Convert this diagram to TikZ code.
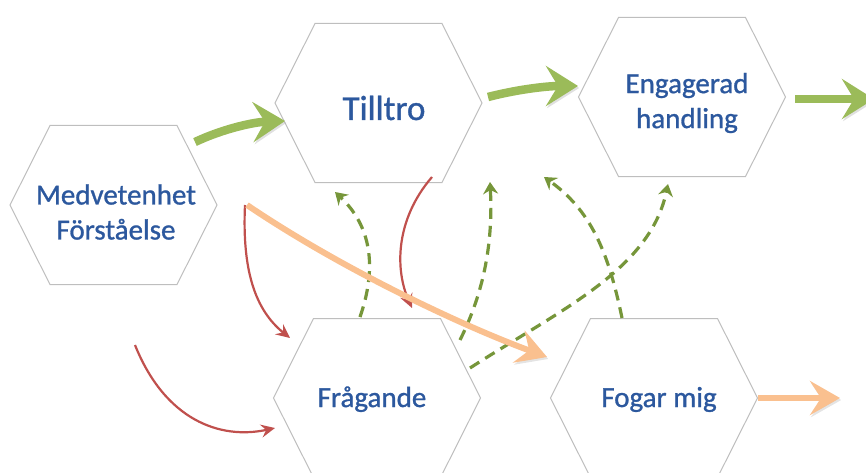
\documentclass[tikz,border=0pt]{standalone}
\usepackage{fontspec}
\setmainfont[FakeBold=1]{Carlito}
\usetikzlibrary{arrows.meta}
\definecolor{txtblue}{RGB}{44,88,158}
\definecolor{hexgray}{RGB}{190,190,190}
\definecolor{thickgreen}{RGB}{155,187,89}
\definecolor{dashgreen}{RGB}{118,150,58}
\definecolor{peach}{RGB}{250,192,143}
\definecolor{redline}{RGB}{192,80,77}
\tikzset{
  hexa/.pic={\draw[hexgray, line width=1pt, fill=white]
    (-103.5,0) -- (-63.5,-79.5) -- (63.5,-79.5) -- (103.5,0) -- (63.5,79.5) -- (-63.5,79.5) -- cycle;},
  label/.style={text=txtblue, font=\fontsize{29}{35}\selectfont, align=center, inner sep=0pt},
  bigarrow/.style={thickgreen, line width=8.5pt, -{Stealth[length=32pt,width=40pt,inset=12pt]},
    preaction={draw=black!35, opacity=.35, transform canvas={shift={(1.2pt,-2pt)}}}},
  peacharrow/.style={peach, line width=6pt, -{Stealth[length=30pt,width=34pt,inset=11pt]},
    preaction={draw=black!35, opacity=.3, transform canvas={shift={(1.2pt,-2pt)}}}},
  redarrow/.style={redline, line width=2.2pt, -{Stealth[length=14pt,width=13pt,inset=5pt]}},
  dasharrow/.style={dashgreen, line width=3.2pt, dash pattern=on 11pt off 7pt, -{Stealth[length=12pt,width=15pt,inset=4pt]}}
}
\begin{document}
\begin{tikzpicture}[x=1pt,y=-1pt]
\useasboundingbox (0,0) rectangle (866,473);
% hexagons
\pic at (113.5,205) {hexa};
\pic at (378.5,103) {hexa};
\pic at (682,97) {hexa};
\pic at (377,398) {hexa};
\pic at (654,398) {hexa};
% labels
\node[label] (med) at (116,212) {Medvetenhet\\Förståelse};
\node[label, anchor=base, font=\fontsize{35}{40}\selectfont] (til) at (384,120) {Tilltro};
\node[label] (eng) at (687,103) {Engagerad\\handling};
\node[label, anchor=base] (fra) at (372,407) {Frågande};
\node[label, anchor=base] (fog) at (659,407) {Fogar mig};
% anchor coordinates
\coordinate (g1s) at (195,142); \coordinate (g1e) at (285,121);
\coordinate (g2s) at (488,97);  \coordinate (g2e) at (578,86);
\coordinate (g3s) at (795,99);  \coordinate (g3e) at (874,99);
\coordinate (o1s) at (247,205); \coordinate (o1e) at (547,357);
\coordinate (o2s) at (758,398); \coordinate (o2e) at (840,398);
\coordinate (r1s) at (245,205); \coordinate (r1e) at (290,338);
\coordinate (r2s) at (135,345); \coordinate (r2e) at (275,428);
\coordinate (r3s) at (432,177); \coordinate (r3e) at (412,308);
\coordinate (d1s) at (360,317); \coordinate (d1e) at (335,192);
\coordinate (d2s) at (460,340); \coordinate (d2e) at (490,182);
\coordinate (d3s) at (622,318); \coordinate (d3e) at (544,177);
\coordinate (d4s) at (470,368); \coordinate (d4e) at (668,184);
% green thick arrows
\draw[bigarrow] (g1s) .. controls (225,128) and (255,122) .. (g1e);
\draw[bigarrow] (g2s) .. controls (515,90) and (545,86) .. (g2e);
\draw[bigarrow] (g3s) -- (g3e);
% red arrows
\draw[redarrow] (r1s) .. controls (242,270) and (255,310) .. (r1e);
\draw[redarrow] (r2s) .. controls (165,420) and (220,440) .. (r2e);
\draw[redarrow] (r3s) .. controls (395,220) and (395,270) .. (r3e);
% dashed green arrows
\draw[dasharrow] (d1s) .. controls (378,265) and (370,225) .. (d1e);
\draw[dasharrow] (d2s) .. controls (485,290) and (493,240) .. (d2e);
\draw[dasharrow] (d3s) .. controls (608,250) and (590,210) .. (d3e);
\draw[dasharrow] (d4s) .. controls (560,310) and (650,270) .. (d4e);
% peach arrows
\draw[peacharrow] (o1s) .. controls (340,268) and (460,325) .. (o1e);
\draw[peacharrow] (o2s) -- (o2e);
\end{tikzpicture}
\end{document}
